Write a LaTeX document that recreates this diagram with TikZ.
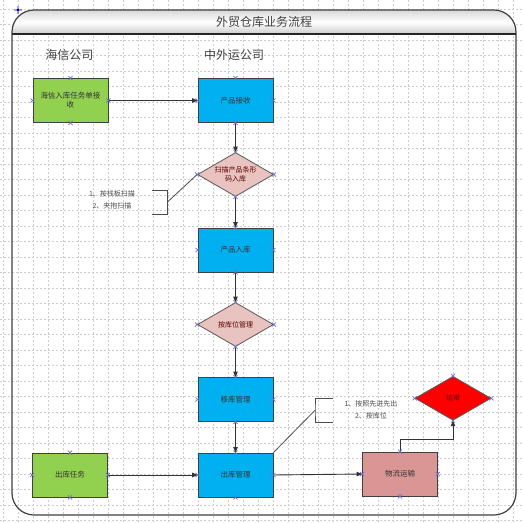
\documentclass[tikz,border=0pt]{standalone}
\usepackage{fontspec}
\setmainfont{Noto Sans CJK SC}
\usepackage{tikz}
\usetikzlibrary{arrows.meta,shapes.geometric,shapes.misc}
\definecolor{hxgreen}{HTML}{92D050}
\definecolor{zwblue}{HTML}{00B0F0}
\definecolor{dpink}{HTML}{E8C3C0}
\definecolor{wlrose}{HTML}{D99694}
\definecolor{mkblue}{HTML}{7070C8}
\definecolor{grdgray}{HTML}{CDCDCD}

\begin{document}
\begin{tikzpicture}[x=1pt, y=-1pt,
    box/.style={draw=black!75, line width=0.8pt, minimum width=75pt,
                minimum height=44pt, inner sep=1pt, align=center,
                font=\fontsize{7.5}{9}\selectfont, text=black!80},
    dia/.style={diamond, draw=black!65, line width=0.8pt, minimum width=76pt,
                minimum height=44pt, aspect=1.7, inner sep=0pt, align=center,
                font=\fontsize{7}{9}\selectfont, text=red!35!black},
    arr/.style={-{Triangle[length=5.5pt,width=4.5pt]}, line width=0.9pt, black!80},
    ann/.style={line width=0.8pt, black!70},
    note/.style={font=\fontsize{7}{12.5}\selectfont, text=black!70, align=center},
    hdr/.style={font=\fontsize{12}{14}\selectfont, text=black!75},
    mk/.style={cross out, draw=mkblue, minimum size=3.5pt, inner sep=0pt, line width=0.6pt},
    grd/.style={grdgray, dash pattern=on 2pt off 2pt, line width=0.4pt}
  ]
  \useasboundingbox (0,0) rectangle (523,523);
  \fill[white] (0,0) rectangle (523,523);
  % --- Grid ---
  \foreach \gx in {0,...,34}
    \draw[grd] (3.3+15*\gx,0) -- ++(0,523);
  \foreach \gy in {0,...,33}
    \draw[grd] (0,9+15.5*\gy) -- ++(523,0);
  % --- Frame and title bar ---
  \begin{scope}
    \clip[rounded corners=22pt] (12,10) rectangle (516,515);
    \shade[top color=gray!30, bottom color=gray!40, middle color=white]
      (12,10) rectangle (516,34);
  \end{scope}
  \draw[black!75, line width=1.2pt, rounded corners=22pt] (12,10) rectangle (516,515);
  \draw[black!85, line width=1.4pt] (12,34) -- (516,34);
  \draw[blue!70!black, line width=0.6pt] (14,10) -- (22,10) (18,6) -- (18,14)
    (18,10) circle (1.3pt);
  \node[hdr] (title) at (264,22) {外贸仓库业务流程};
  % --- Lanes ---
  \node[hdr] (hxhdr) at (69.3,55) {海信公司};
  \node[hdr] (zwhdr) at (234,55) {中外运公司};
  % --- Shapes ---
  \node[box, fill=hxgreen] (hxin) at (70.5,100.5) {海信入库任务单接\\收};
  \node[box, fill=zwblue] (cpjs) at (235.5,100.5) {产品接收};
  \node[dia, fill=dpink] (smrk) at (235.5,174.5) {扫描产品条形\\码入库};
  \node[box, fill=zwblue] (cprk) at (235.5,250) {产品入库};
  \node[dia, fill=dpink] (kwgl) at (235.5,324.5) {按库位管理};
  \node[box, fill=zwblue] (ykgl) at (235.5,399.5) {移库管理};
  \node[box, fill=zwblue] (ckgl) at (235.5,475) {出库管理};
  \node[box, fill=hxgreen] (ckrw) at (70,475) {出库任务};
  \node[box, fill=wlrose] (wlys) at (400,474) {物流运输};
  \node[dia, fill=red, text=red!40!black] (jies) at (453,398.3) {结束};
  % --- Flow ---
  \draw[arr] (hxin.east) -- (cpjs.west);
  \draw[arr] (cpjs.south) -- (smrk.north);
  \draw[arr] (smrk.south) -- (cprk.north);
  \draw[arr] (cprk.south) -- (kwgl.north);
  \draw[arr] (kwgl.south) -- (ykgl.north);
  \draw[arr] (ykgl.south) -- (ckgl.north);
  \draw[arr] (ckrw.east) -- (ckgl.west);
  \draw[arr] (ckgl.east) -- (wlys.west);
  \draw[arr] (wlys.north) -- ++(0,-12.4) -| (jies.south);
  % --- Notes ---
  \coordinate (b1) at (167.3,202.2);
  \draw[ann] (151.7,190) -| (b1) |- (151.7,214.3);
  \draw[ann] (b1) -- (smrk.west);
  \node[note] (n1) at (112,200) {1、按栈板扫描\\2、夹抱扫描};
  \coordinate (b2) at (315,410.3);
  \draw[ann] (333.3,398.3) -| (b2) |- (333.3,422.3);
  \draw[ann] (b2) -- (ckgl.north east);
  \node[note] (n2) at (371,410) {1、按照先进先出\\2、按库位};
  % --- Connection points ---
  \foreach \n in {hxin,cpjs,smrk,cprk,kwgl,ykgl,ckgl,ckrw,wlys,jies}
    \foreach \a in {north,south,east,west}
      \node[mk] (\n-\a) at (\n.\a) {};
\end{tikzpicture}
\end{document}
